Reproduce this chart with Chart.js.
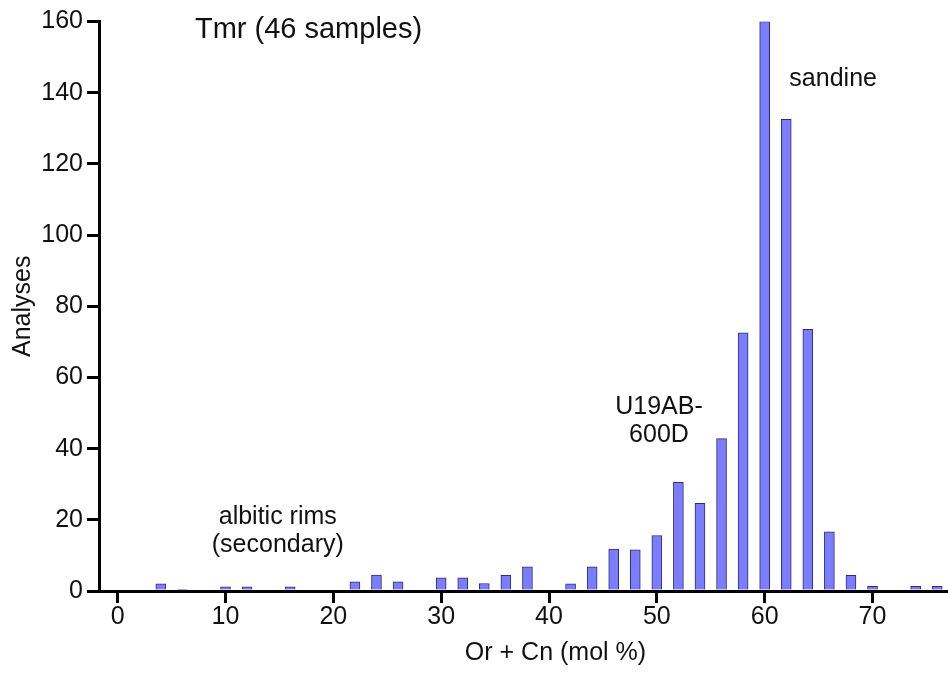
<!DOCTYPE html>
<html>
<head>
<meta charset="utf-8">
<script src="https://cdn.jsdelivr.net/npm/chart.js@4/dist/chart.umd.min.js"></script>
<style>
  html, body { margin: 0; padding: 0; background: #fff; }
  #wrap { width: 948px; height: 677px; position: relative; }
</style>
</head>
<body>
<div id="wrap"><canvas id="myChart"></canvas></div>
<script>
// DATA (bin centres, mol %)
const binCentres = [4, 6, 10, 12, 16, 22, 24, 26, 30, 32, 34, 36, 38, 42, 44, 46, 48, 50,
                    52, 54, 56, 58, 60, 62, 64, 66, 68, 70, 74, 76];
const analyses = [2, 0.3, 1.2, 1.2, 1.2, 2.6, 4.5, 2.6, 3.7, 3.7, 2.1, 4.4, 6.8, 2, 6.8, 11.8, 11.6, 15.6,
                  30.5, 24.6, 42.8, 72.5, 160, 132.5, 73.5, 16.6, 4.4, 1.3, 1.3, 1.3];
const xTicks = [0, 10, 20, 30, 40, 50, 60, 70];
const yTicks = [0, 20, 40, 60, 80, 100, 120, 140, 160];

// text labels placed in data coordinates (x axis title sits off-centre, so it is drawn here too)
const notes = [
    {text: ['Tmr (46 samples)'], x: 17.7, y: 157.6, size: 29},
    {text: ['sandine'], x: 66.35, y: 143.7, size: 25},
    {text: ['U19AB-', '600D'], x: 50.2, y: 51.7, size: 25},
    {text: ['albitic rims', '(secondary)'], x: 14.85, y: 20.8, size: 25},
    {text: ['Or + Cn (mol %)'], x: 40.6, y: -17.4, size: 25}
];

const FONT = '"Liberation Sans", Arial, Helvetica, sans-serif';
Chart.defaults.font.family = FONT;
Chart.defaults.color = '#000';

const noteLabels = {
    id: 'noteLabels',
    afterDraw(chart) {
        const ctx = chart.ctx;
        const xs = chart.scales.x, ys = chart.scales.y;
        ctx.save();
        ctx.fillStyle = '#111';
        ctx.textAlign = 'center';
        ctx.textBaseline = 'middle';
        notes.forEach(function (n) {
            ctx.font = n.size + 'px ' + FONT;
            const px = xs.getPixelForValue(n.x);
            const py = ys.getPixelForValue(n.y);
            n.text.forEach(function (line, i) {
                ctx.fillText(line, px, py + i * 28.5);
            });
        });
        ctx.restore();
    }
};

const points = binCentres.map((x, i) => ({x: x, y: analyses[i]}));

let ctx = document.getElementById('myChart');
let chart = new Chart(ctx, {
    type: 'bar',
    data: {
        datasets: [{
            data: points,
            backgroundColor: 'rgb(124,124,255)',
            borderColor: '#2e2e6e',
            borderWidth: 1,
            barThickness: 10
        }]
    },
    options: {
        responsive: true,
        maintainAspectRatio: false,
        animation: false,
        layout: {padding: {top: 21.5, right: 0, left: 0, bottom: 0}},
        plugins: {legend: {display: false}, tooltip: {enabled: false}},
        scales: {
            x: {
                type: 'linear',
                min: -1.73,
                max: 77,
                offset: false,
                afterBuildTicks: s => { s.ticks = xTicks.map(v => ({value: v})); },
                afterFit: s => { s.height = 86; },
                border: {display: true, color: '#000', width: 3},
                grid: {offset: false, drawOnChartArea: false, drawTicks: true, tickLength: 12, lineWidth: 3, color: '#000'},
                ticks: {font: {size: 25, lineHeight: 1}, padding: 2, maxRotation: 0, color: '#111'},
                title: {display: false}
            },
            y: {
                min: 0,
                max: 160,
                afterBuildTicks: s => { s.ticks = yTicks.map(v => ({value: v})); },
                afterFit: s => { s.width = 99; },
                border: {display: true, color: '#000', width: 3},
                grid: {drawOnChartArea: false, drawTicks: true, tickLength: 12, lineWidth: 3, color: '#000'},
                ticks: {font: {size: 25}, padding: 4, color: '#111'},
                title: {display: true, text: 'Analyses', font: {size: 25}, color: '#111',
                        padding: {top: 8, bottom: 0}}
            }
        }
    },
    plugins: [noteLabels]
});
</script>
</body>
</html>
